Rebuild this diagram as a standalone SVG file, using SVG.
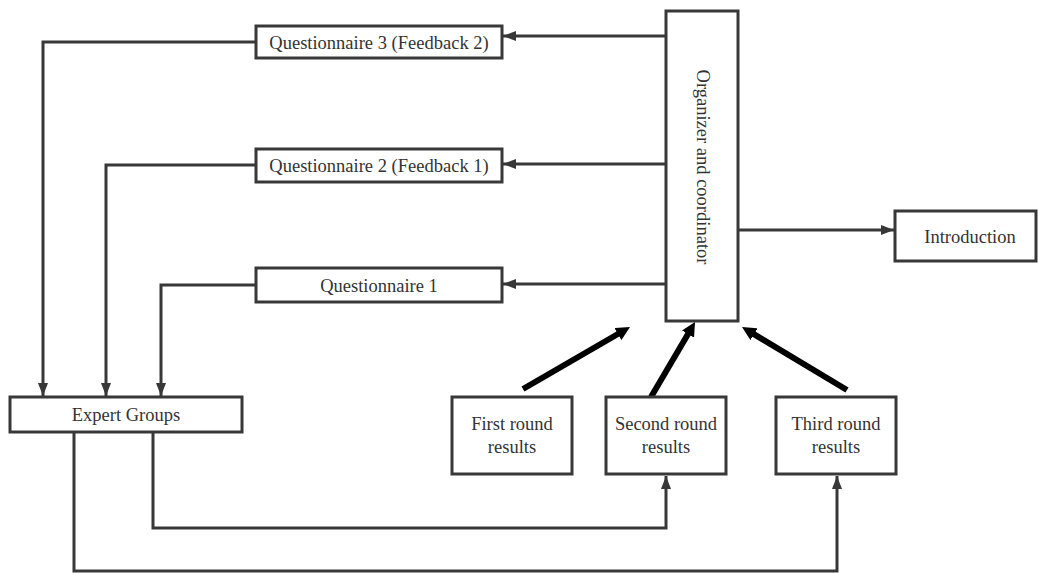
<svg xmlns="http://www.w3.org/2000/svg" width="1038" height="573" viewBox="0 0 1038 573">
<defs>
<style>
.box{fill:#fff;stroke:#383838;stroke-width:3}
.lbl{font-family:"Liberation Serif","Times New Roman",serif;font-size:18.5px;fill:#333;text-anchor:middle}
.con{fill:none;stroke:#383838;stroke-width:3}
.thick{fill:none;stroke:#000;stroke-width:6}
</style>
<marker id="ah" markerUnits="userSpaceOnUse" markerWidth="13" markerHeight="10" refX="13" refY="5" orient="auto">
<path d="M0,0 L13,5 L0,10 z" fill="#383838"/>
</marker>
<marker id="ahk" markerUnits="userSpaceOnUse" markerWidth="14" markerHeight="14" refX="6" refY="7" orient="auto">
<path d="M0,0 L14,7 L0,14 z" fill="#000"/>
</marker>
</defs>
<rect width="1038" height="573" fill="#fff"/>
<g id="connectors">
<path class="con" d="M666,36 L503,36" marker-end="url(#ah)"/>
<path class="con" d="M666,164 L503,164" marker-end="url(#ah)"/>
<path class="con" d="M666,284 L503,284" marker-end="url(#ah)"/>
<path class="con" d="M738,230 L894,230" marker-end="url(#ah)"/>
<path class="con" d="M256,42 L43,42 L43,396" marker-end="url(#ah)"/>
<path class="con" d="M256,165 L106,165 L106,396" marker-end="url(#ah)"/>
<path class="con" d="M256,285 L161,285 L161,396" marker-end="url(#ah)"/>
<path class="con" d="M153,432 L153,528 L666,528 L666,476" marker-end="url(#ah)"/>
<path class="con" d="M74,432 L74,571 L837,571 L837,476" marker-end="url(#ah)"/>
<path class="thick" d="M523,389 L623.1,331" marker-end="url(#ahk)"/>
<path class="thick" d="M651,397 L691,328.9" marker-end="url(#ahk)"/>
<path class="thick" d="M847,390 L748.9,331.1" marker-end="url(#ahk)"/>
</g>
<g id="q3"><rect class="box" x="256" y="26" width="246" height="32"/><text class="lbl" x="379" y="49">Questionnaire 3 (Feedback 2)</text></g>
<g id="q2"><rect class="box" x="256" y="149" width="246" height="33"/><text class="lbl" x="379" y="172">Questionnaire 2 (Feedback 1)</text></g>
<g id="q1"><rect class="box" x="256" y="268" width="246" height="34"/><text class="lbl" x="379" y="292">Questionnaire 1</text></g>
<g id="organizer"><rect class="box" x="666" y="11" width="72" height="310"/><text class="lbl" transform="translate(697,167) rotate(90)">Organizer and coordinator</text></g>
<g id="introduction"><rect class="box" x="895" y="211" width="141" height="50"/><text class="lbl" x="970" y="243">Introduction</text></g>
<g id="expert"><rect class="box" x="10" y="397" width="232" height="35"/><text class="lbl" x="126" y="421">Expert Groups</text></g>
<g id="first"><rect class="box" x="452" y="397" width="120" height="77"/><text class="lbl" x="512" y="430">First round</text><text class="lbl" x="512" y="453">results</text></g>
<g id="second"><rect class="box" x="606" y="397" width="120" height="77"/><text class="lbl" x="666" y="430">Second round</text><text class="lbl" x="666" y="453">results</text></g>
<g id="third"><rect class="box" x="776" y="397" width="120" height="77"/><text class="lbl" x="836" y="430">Third round</text><text class="lbl" x="836" y="453">results</text></g>
</svg>
